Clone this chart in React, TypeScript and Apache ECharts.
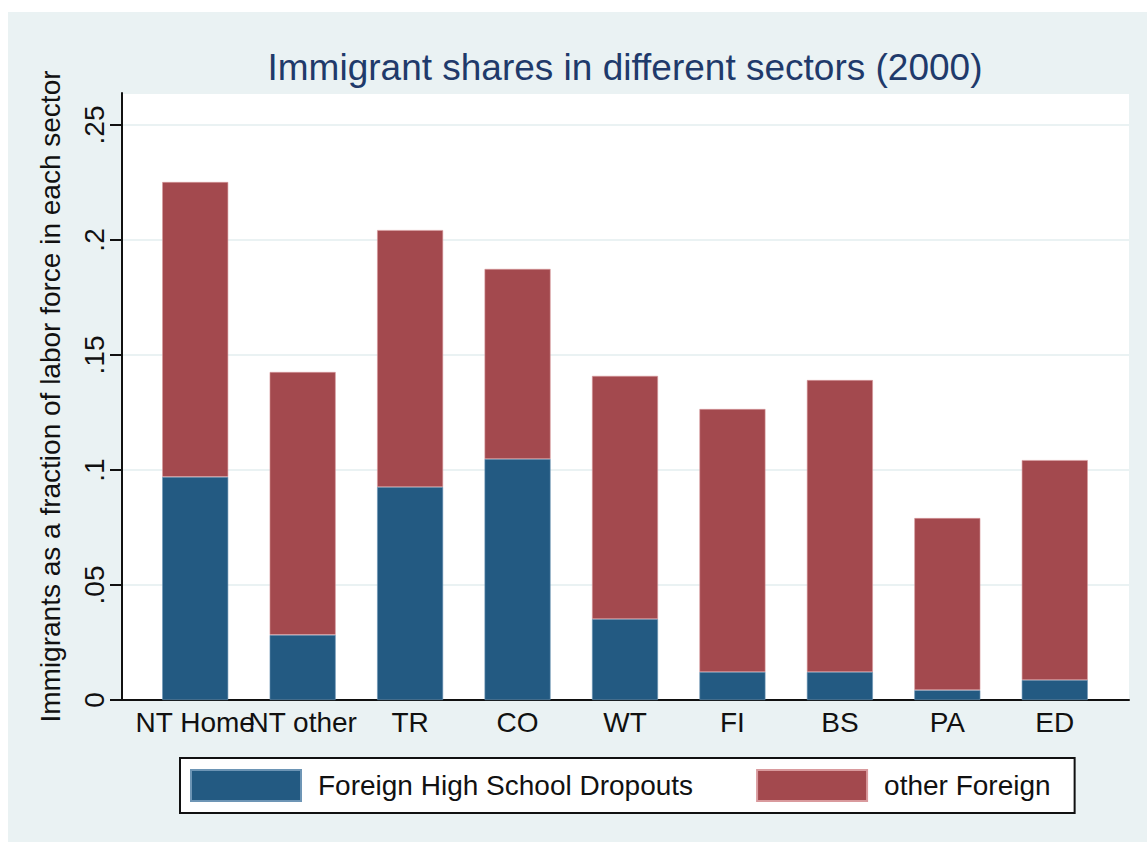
import React, { useEffect, useRef } from "react";
import * as echarts from "echarts";

const categories = ["NT Home", "NT other", "TR", "CO", "WT", "FI", "BS", "PA", "ED"];
const dropouts = [0.097, 0.0283, 0.0926, 0.1048, 0.0352, 0.0122, 0.0122, 0.0043, 0.0087];
const totals = [0.2252, 0.1426, 0.2043, 0.1874, 0.1409, 0.1265, 0.1391, 0.0791, 0.1043];
const otherForeign = totals.map((t, i) => +(t - dropouts[i]).toFixed(4));
const yTicks = [0, 0.05, 0.1, 0.15, 0.2, 0.25];
const yMax = 0.2639;

const FONT = "'Liberation Sans', Arial, Helvetica, sans-serif";
const BLUE = "#235A82";
const RED = "#A3494E";
const BG = "#EAF2F3";

function fmt(v: number): string {
  if (v === 0) return "0";
  const isTick = yTicks.some((t) => Math.abs(t - v) < 1e-9);
  if (!isTick) return "";
  return String(+v.toFixed(2)).replace(/^0\./, ".");
}

export default function App() {
  const ref = useRef<HTMLDivElement>(null);
  useEffect(() => {
    if (!ref.current) return;
    const chart = echarts.init(ref.current, undefined, { renderer: "svg" });
    chart.setOption({
      animation: false,
      backgroundColor: "#ffffff",
      graphic: [
        {
          type: "rect",
          z: -10,
          silent: true,
          shape: { x: 8, y: 12, width: 1139, height: 830 },
          style: { fill: BG },
        },
      ],
      title: {
        text: "Immigrant shares in different sectors (2000)",
        left: 620,
        top: 44,
        textAlign: "center",
        textStyle: { fontFamily: FONT, fontSize: 37, fontWeight: "normal", color: "#1F3A6B" },
      },
      legend: {
        left: 180,
        top: 758,
        orient: "horizontal",
        itemWidth: 110,
        itemHeight: 31,
        itemGap: 63,
        padding: [11, 24, 11, 10],
        backgroundColor: "#ffffff",
        borderColor: "#111111",
        borderWidth: 2,
        borderRadius: 0,
        icon: "rect",
        textStyle: { fontFamily: FONT, fontSize: 28, color: "#111111", padding: [0, 0, 0, 12] },
        data: ["Foreign High School Dropouts", "other Foreign"],
      },
      grid: [
        {
          left: 122,
          top: 93,
          width: 1007,
          height: 607,
          show: true,
          backgroundColor: "#ffffff",
          borderWidth: 0,
          containLabel: false,
        },
        {
          left: 141.5,
          top: 93,
          width: 967,
          height: 607,
          containLabel: false,
        },
      ],
      xAxis: [
        {
          gridIndex: 0,
          type: "value",
          min: 0,
          max: 1,
          axisLine: { show: true, onZero: false, lineStyle: { color: "#111111", width: 2 } },
          axisTick: { show: false },
          axisLabel: { show: false },
          splitLine: { show: false },
        },
        {
          gridIndex: 1,
          type: "category",
          data: categories,
          axisLine: { show: false },
          axisTick: { show: false },
          axisLabel: {
            interval: 0,
            margin: 8,
            fontFamily: FONT,
            fontSize: 28,
            color: "#111111",
          },
          splitLine: { show: false },
        },
      ],
      yAxis: [
        {
          gridIndex: 0,
          type: "value",
          min: 0,
          max: yMax,
          interval: 0.05,
          name: "Immigrants as a fraction of labor force in each sector",
          nameLocation: "middle",
          nameGap: 58,
          nameTextStyle: { fontFamily: FONT, fontSize: 28, color: "#111111" },
          axisLine: { show: true, lineStyle: { color: "#111111", width: 2 } },
          axisTick: { show: true, length: 12, lineStyle: { color: "#111111", width: 2 } },
          axisLabel: {
            show: true,
            rotate: 90,
            margin: 14,
            fontFamily: FONT,
            fontSize: 28,
            color: "#111111",
            showMaxLabel: false,
            formatter: (v: number) => fmt(v),
          },
          splitLine: { show: true, lineStyle: { color: BG, width: 2 } },
        },
        {
          gridIndex: 1,
          type: "value",
          min: 0,
          max: yMax,
          show: false,
          splitLine: { show: false },
        },
      ],
      series: [
        {
          name: "Foreign High School Dropouts",
          type: "bar",
          xAxisIndex: 1,
          yAxisIndex: 1,
          stack: "total",
          barWidth: 66,
          itemStyle: { color: BLUE, borderColor: "#6d95b5", borderWidth: 0.6 },
          data: dropouts,
        },
        {
          name: "other Foreign",
          type: "bar",
          xAxisIndex: 1,
          yAxisIndex: 1,
          stack: "total",
          barWidth: 66,
          itemStyle: { color: RED, borderColor: "#d99a9d", borderWidth: 0.6 },
          data: otherForeign,
        },
      ],
    });
    return () => chart.dispose();
  }, []);
  return (
    <div
      ref={ref}
      style={{ position: "absolute", left: 0, top: 0, width: 1147, height: 842 }}
    />
  );
}
